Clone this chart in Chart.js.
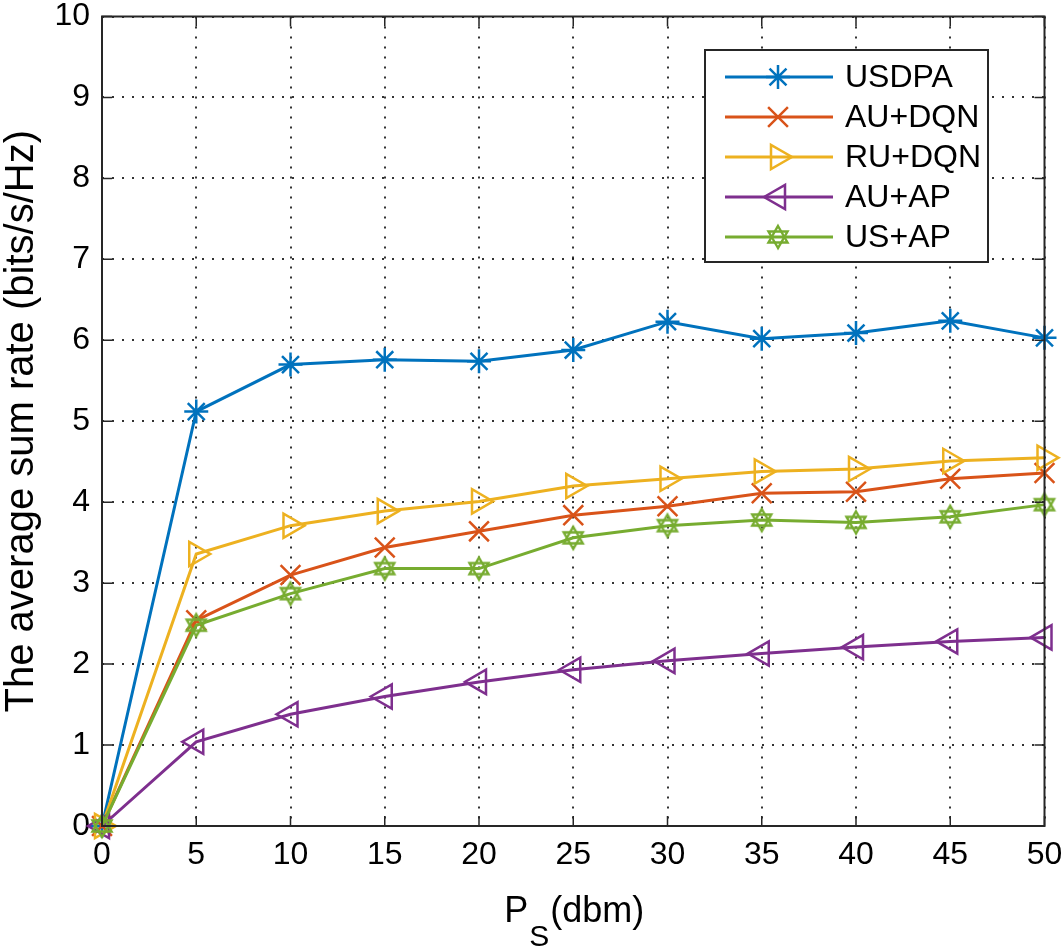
<!DOCTYPE html>
<html>
<head>
<meta charset="utf-8">
<script src="https://cdn.jsdelivr.net/npm/chart.js@4.4.1/dist/chart.umd.min.js"></script>
<style>
  html, body { margin: 0; padding: 0; background: #fff; }
  #wrap { width: 1061px; height: 950px; }
</style>
</head>
<body>
<div id="wrap"><canvas id="rateChart" width="1061" height="950"></canvas></div>
<script>
// --- donnees ---
const powerLevels = [0, 5, 10, 15, 20, 25, 30, 35, 40, 45, 50];
const usdpaRates  = [0, 5.12, 5.70, 5.76, 5.74, 5.88, 6.23, 6.02, 6.09, 6.24, 6.03];
const auDqnRates  = [0, 2.54, 3.10, 3.44, 3.64, 3.84, 3.95, 4.11, 4.13, 4.29, 4.36];
const ruDqnRates  = [0, 3.36, 3.71, 3.89, 4.01, 4.20, 4.29, 4.38, 4.41, 4.51, 4.55];
const auApRates   = [0, 1.04, 1.38, 1.60, 1.78, 1.93, 2.04, 2.13, 2.21, 2.28, 2.33];
const usApRates   = [0, 2.48, 2.87, 3.18, 3.18, 3.56, 3.71, 3.78, 3.75, 3.82, 3.97];
const seriesNames = ['USDPA', 'AU+DQN', 'RU+DQN', 'AU+AP', 'US+AP'];
const xTitle = ['P', 'S', '(dbm)'];
const yTitle = 'The average sum rate (bits/s/Hz)';

const FONT = '"Liberation Sans", Arial, Helvetica, sans-serif';
const COLORS = ['#0072BD', '#D95319', '#EDB120', '#7E2F8E', '#77AC30'];

// hexagramme (marqueur 'h' de MATLAB) dessine sur un petit canvas
function makeHexagram(color) {
    const c = document.createElement('canvas');
    c.width = 28; c.height = 28;
    const g = c.getContext('2d');
    g.strokeStyle = color; g.lineWidth = 2.4; g.lineJoin = 'miter';
    const r = 11, cx = 14, cy = 14;
    [ -90, 90 ].forEach(start => {
        g.beginPath();
        for (let k = 0; k < 3; k++) {
            const a = (start + k * 120) * Math.PI / 180;
            const px = cx + r * Math.cos(a), py = cy + r * Math.sin(a);
            k === 0 ? g.moveTo(px, py) : g.lineTo(px, py);
        }
        g.closePath(); g.stroke();
    });
    return c;
}
const hexagram = makeHexagram(COLORS[4]);

const markerStyles = [
    { pointStyle: 'star', radius: 12, rotation: 0 },
    { pointStyle: 'crossRot', radius: 14, rotation: 0 },
    { pointStyle: 'triangle', radius: 14, rotation: 90 },
    { pointStyle: 'triangle', radius: 14, rotation: -90 },
    { pointStyle: hexagram, radius: 12, rotation: 0 }
];

const allRates = [usdpaRates, auDqnRates, ruDqnRates, auApRates, usApRates];

const datasets = allRates.map((rates, i) => ({
    label: seriesNames[i],
    data: rates.map((v, j) => ({ x: powerLevels[j], y: v })),
    borderColor: COLORS[i],
    backgroundColor: 'rgba(0,0,0,0)',
    borderWidth: 3,
    pointStyle: markerStyles[i].pointStyle,
    pointRadius: markerStyles[i].radius,
    pointRotation: markerStyles[i].rotation,
    pointBorderWidth: 2.5,
    pointBorderColor: COLORS[i],
    pointBackgroundColor: 'rgba(0,0,0,0)',
    tension: 0,
    clip: false,
    order: -i
}));

// cadre, graduations internes, titres des axes et legende facon MATLAB
const matlabFrame = {
    id: 'matlabFrame',
    afterDraw(chart) {
        const { ctx, chartArea: a, scales } = chart;
        ctx.save();
        // graduations vers l'interieur
        ctx.strokeStyle = '#262626'; ctx.lineWidth = 1.5;
        const tl = 10;
        scales.x.ticks.forEach(t => {
            const px = scales.x.getPixelForValue(t.value);
            ctx.beginPath();
            ctx.moveTo(px, a.bottom); ctx.lineTo(px, a.bottom - tl);
            ctx.moveTo(px, a.top); ctx.lineTo(px, a.top + tl);
            ctx.stroke();
        });
        scales.y.ticks.forEach(t => {
            const py = scales.y.getPixelForValue(t.value);
            ctx.beginPath();
            ctx.moveTo(a.left, py); ctx.lineTo(a.left + tl, py);
            ctx.moveTo(a.right, py); ctx.lineTo(a.right - tl, py);
            ctx.stroke();
        });
        ctx.lineWidth = 2;
        ctx.strokeRect(a.left, a.top, a.right - a.left, a.bottom - a.top);

        // titre axe y
        ctx.fillStyle = '#000';
        ctx.font = '40px ' + FONT;
        ctx.textAlign = 'center'; ctx.textBaseline = 'middle';
        ctx.translate(22, (a.top + a.bottom) / 2);
        ctx.rotate(-Math.PI / 2);
        ctx.fillText(yTitle, 0, 0);
        ctx.setTransform(1, 0, 0, 1, 0, 0);

        // titre axe x : P avec indice S
        ctx.textAlign = 'left'; ctx.textBaseline = 'alphabetic';
        const big = '36px ' + FONT, small = '30px ' + FONT;
        ctx.font = big; const wP = ctx.measureText(xTitle[0]).width;
        const wRest = ctx.measureText(xTitle[2]).width;
        ctx.font = small; const wS = ctx.measureText(xTitle[1]).width;
        let x0 = (a.left + a.right) / 2 - (wP + wS + wRest) / 2;
        const base = 922;
        ctx.font = big; ctx.fillText(xTitle[0], x0, base);
        ctx.font = small; ctx.fillText(xTitle[1], x0 + wP + 1, base + 24);
        ctx.font = big; ctx.fillText(xTitle[2], x0 + wP + wS + 2, base);

        // legende
        const lx = 705, ly = 50, lw = 283, lh = 212;
        ctx.fillStyle = '#fff';
        ctx.fillRect(lx, ly, lw, lh);
        ctx.strokeStyle = '#262626'; ctx.lineWidth = 2;
        ctx.strokeRect(lx, ly, lw, lh);
        ctx.font = '32px ' + FONT; ctx.textBaseline = 'middle';
        chart.data.datasets.forEach((ds, i) => {
            const ry = ly + 27 + i * 40;
            ctx.strokeStyle = ds.borderColor; ctx.lineWidth = 3;
            ctx.beginPath(); ctx.moveTo(lx + 20, ry); ctx.lineTo(lx + 128, ry); ctx.stroke();
            ctx.lineWidth = ds.pointBorderWidth;
            ctx.fillStyle = 'rgba(0,0,0,0)';
            Chart.helpers.drawPoint(ctx, {
                pointStyle: ds.pointStyle, radius: ds.pointRadius,
                rotation: ds.pointRotation, borderWidth: ds.pointBorderWidth
            }, lx + 73, ry);
            ctx.fillStyle = '#000';
            ctx.fillText(ds.label, lx + 140, ry + 1);
        });
        ctx.restore();
    }
};

function stripPadding(scale) {
    scale.paddingLeft = 0; scale.paddingRight = 0;
    scale.paddingTop = 0; scale.paddingBottom = 0;
}

const ctx = document.getElementById('rateChart').getContext('2d');
new Chart(ctx, {
    type: 'line',
    data: { datasets: datasets },
    options: {
        responsive: false,
        animation: false,
        layout: { padding: { left: 0, top: 11, right: 13, bottom: 0 } },
        plugins: { legend: { display: false }, tooltip: { enabled: false } },
        scales: {
            x: {
                type: 'linear', min: 0, max: 50,
                ticks: { stepSize: 5, color: '#000', font: { family: FONT, size: 32 }, padding: 10, maxRotation: 0 },
                grid: { color: 'rgba(0,0,0,0.8)', lineWidth: 2, drawTicks: false },
                border: { display: false, dash: [2, 8] },
                afterFit(scale) { scale.height = 124; stripPadding(scale); }
            },
            y: {
                type: 'linear', min: 0, max: 10,
                ticks: { stepSize: 1, color: '#000', font: { family: FONT, size: 32 }, padding: 12 },
                grid: { color: 'rgba(0,0,0,0.8)', lineWidth: 2, drawTicks: false },
                border: { display: false, dash: [2, 8] },
                afterFit(scale) { scale.width = 102; stripPadding(scale); }
            }
        }
    },
    plugins: [matlabFrame]
});
</script>
</body>
</html>
